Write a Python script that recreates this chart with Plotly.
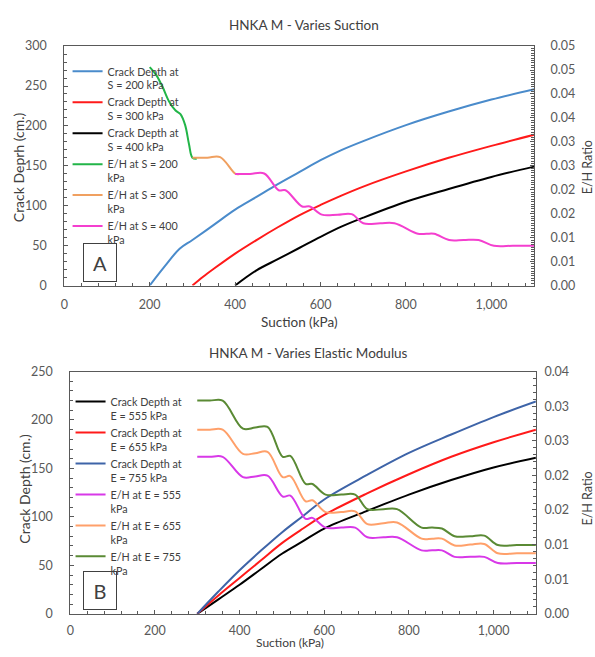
import plotly.graph_objects as go

# ---------------- DATA ----------------
# Chart A: HNKA M - Varies Suction
suction_cd_s200 = [200, 235, 270, 300, 350, 400, 450, 500, 550, 600, 650, 700, 800, 900, 1000, 1100]
crack_s200 = [0, 24, 46, 57, 76, 95, 111, 127, 142, 157, 170, 181, 201, 218, 233, 246]
suction_cd_s300 = [300, 325, 350, 400, 450, 500, 550, 600, 650, 700, 800, 900, 1000, 1100]
crack_s300 = [0, 11, 21, 40, 57, 73, 88, 101, 113, 124, 143, 160, 175, 189]
suction_cd_s400 = [400, 450, 500, 550, 600, 650, 700, 800, 900, 1000, 1100]
crack_s400 = [0, 19, 33, 47, 61, 74, 85, 105, 121, 136, 149]

suction_eh_s200 = [200, 215, 230, 245, 260, 272, 283, 292, 300, 310]
eh_s200 = [0.0456, 0.0440, 0.0415, 0.0385, 0.0366, 0.0358, 0.0335, 0.0295, 0.0267, 0.0265]
suction_eh_s300 = [300, 335, 365, 401, 410]
eh_s300 = [0.0267, 0.0267, 0.0268, 0.0233, 0.0233]
suction_eh_s400 = [400, 435, 468, 502, 518, 557, 575, 603, 640, 673, 700, 740, 773, 828, 848, 866,
                   901, 935, 970, 1006, 1050, 1100]
eh_s400 = [0.0233, 0.0233, 0.0234, 0.0199, 0.0199, 0.0165, 0.0165, 0.0148, 0.0148, 0.0149, 0.0130,
           0.0130, 0.0130, 0.0108, 0.0108, 0.0108, 0.0095, 0.0095, 0.0095, 0.0083, 0.0083, 0.0083]

# Chart B: HNKA M - Varies Elastic Modulus
suction_cd_b = [300, 350, 400, 450, 500, 550, 600, 700, 800, 900, 1000, 1100]
crack_e555 = [0, 15, 30, 46, 62, 75, 88, 106, 123, 138, 151, 161]
crack_e655 = [0, 19, 37, 55, 73, 88, 102, 124, 144, 162, 177, 190]
crack_e755 = [0, 23, 45, 65, 84, 101, 118, 143, 166, 185, 203, 219]

suction_eh_b = [300, 330, 360, 408, 437, 466, 502, 520, 556, 572, 603, 640, 673, 702, 740, 772,
                830, 855, 878, 908, 945, 978, 1010, 1055, 1100]
eh_e555 = [0.02268, 0.02268, 0.02268, 0.01974, 0.01985, 0.01995, 0.01694, 0.01708, 0.01372, 0.01386,
           0.01246, 0.01246, 0.01246, 0.01106, 0.01106, 0.01106, 0.00917, 0.00917, 0.00917,
           0.00823, 0.00823, 0.00823, 0.00734, 0.00734, 0.00734]
eh_e655 = [0.0266, 0.0266, 0.0266, 0.0231, 0.0232, 0.0234, 0.01974, 0.0199, 0.01624, 0.0164,
           0.0147, 0.0147, 0.0148, 0.01295, 0.0131, 0.0132, 0.01086, 0.01086, 0.01086,
           0.00988, 0.0100, 0.0101, 0.00875, 0.00875, 0.00875]
eh_e755 = [0.0308, 0.0308, 0.0308, 0.02674, 0.0269, 0.0270, 0.02268, 0.0228, 0.01876, 0.01876,
           0.01722, 0.01722, 0.01722, 0.01512, 0.01512, 0.01512, 0.01246, 0.01246, 0.01232,
           0.0112, 0.0112, 0.0113, 0.00994, 0.00994, 0.00994]

# Tick labels
x_tickvals = [0, 200, 400, 600, 800, 1000]
x_ticktext = ["0", "200", "400", "600", "800", "1,000"]
eh_a_tickvals = [0, 0.005, 0.01, 0.015, 0.02, 0.025, 0.03, 0.035, 0.04, 0.045, 0.05]
eh_a_ticktext = ["0.00", "0.01", "0.01", "0.02", "0.02", "0.03", "0.03", "0.04", "0.04", "0.05", "0.05"]
eh_b_tickvals = [0, 0.005, 0.01, 0.015, 0.02, 0.025, 0.03, 0.035]
eh_b_ticktext = ["0.00", "0.01", "0.01", "0.02", "0.02", "0.03", "0.03", "0.04"]

# ---------------- FIGURE ----------------
W, H = 595, 657
def px(x):
    return x / W
def py(y):
    return 1 - y / H

FONT = "Lato"
TXT = "#404040"
TICK = "#595959"
AX = "#595959"

fig = go.Figure()

def add_line(x, y, name, color, xa, ya, legend):
    fig.add_trace(go.Scatter(
        x=x, y=y, name=name, mode="lines",
        line=dict(color=color, width=2, shape="spline", smoothing=1),
        xaxis=xa, yaxis=ya, legend=legend))

# Chart A
add_line(suction_cd_s200, crack_s200, "Crack Depth at<br>S = 200 kPa", "#4A8BCB", "x", "y", "legend")
add_line(suction_cd_s300, crack_s300, "Crack Depth at<br>S = 300 kPa", "#FF1A1A", "x", "y", "legend")
add_line(suction_cd_s400, crack_s400, "Crack Depth at<br>S = 400 kPa", "#000000", "x", "y", "legend")
add_line(suction_eh_s200, eh_s200, "E/H at S = 200<br>kPa", "#22B548", "x", "y2", "legend")
add_line(suction_eh_s300, eh_s300, "E/H at S = 300<br>kPa", "#F0A060", "x", "y2", "legend")
add_line(suction_eh_s400, eh_s400, "E/H at S = 400<br>kPa", "#F43FCF", "x", "y2", "legend")

# Chart B
add_line(suction_cd_b, crack_e555, "Crack Depth at<br>E = 555 kPa", "#000000", "x2", "y3", "legend2")
add_line(suction_cd_b, crack_e655, "Crack Depth at<br>E = 655 kPa", "#FF1A1A", "x2", "y3", "legend2")
add_line(suction_cd_b, crack_e755, "Crack Depth at<br>E = 755 kPa", "#3E64A8", "x2", "y3", "legend2")
add_line(suction_eh_b, eh_e555, "E/H at E = 555<br>kPa", "#D838E8", "x2", "y4", "legend2")
add_line(suction_eh_b, eh_e655, "E/H at E = 655<br>kPa", "#FFA06A", "x2", "y4", "legend2")
add_line(suction_eh_b, eh_e755, "E/H at E = 755<br>kPa", "#5A8A34", "x2", "y4", "legend2")

def xaxis_cfg(domain, anchor, standoff):
    return dict(domain=domain, anchor=anchor, range=[0, 1100], tickvals=x_tickvals, ticktext=x_ticktext,
                ticks="inside", ticklen=4, tickcolor=AX, showline=True, linecolor=AX, linewidth=1,
                mirror=True, showgrid=False, zeroline=False,
                tickfont=dict(family=FONT, size=12.5, color=TICK), ticklabelstandoff=standoff,
                minor=dict(dtick=40, ticks="inside", ticklen=3, tickcolor=AX))

def yleft_cfg(domain, anchor, rng):
    return dict(domain=domain, anchor=anchor, range=rng, dtick=50, ticks="inside", ticklen=4,
                tickcolor=AX, showline=True, linecolor=AX, linewidth=1, showgrid=False, zeroline=False,
                tickfont=dict(family=FONT, size=12.5, color=TICK), ticklabelstandoff=14,
                minor=dict(dtick=10, ticks="inside", ticklen=3, tickcolor=AX))

def yright_cfg(overlay, anchor, rng, tv, tt, mdt, standoff):
    return dict(overlaying=overlay, side="right", anchor=anchor, range=rng, tickvals=tv, ticktext=tt,
                ticks="inside", ticklen=4, tickcolor=AX, showline=True, linecolor=AX, linewidth=1,
                showgrid=False, zeroline=False,
                tickfont=dict(family=FONT, size=12.5, color=TICK), ticklabelstandoff=standoff,
                minor=dict(dtick=mdt, ticks="inside", ticklen=3, tickcolor=AX))

legend_common = dict(xanchor="left", yanchor="top", bgcolor="rgba(0,0,0,0)",
                     font=dict(family=FONT, size=10.75, color=TXT), valign="top",
                     tracegroupgap=0, itemwidth=30)

fig.update_layout(
    width=W, height=H,
    margin=dict(l=0, r=0, t=0, b=0),
    paper_bgcolor="white", plot_bgcolor="white",
    font=dict(family=FONT, color=TXT),
    xaxis=xaxis_cfg([px(60.7), px(533.7)], "y", 7),
    yaxis=yleft_cfg([py(284), py(39)], "x", [0, 300]),
    yaxis2=yright_cfg("y", "x", [0, 0.05], eh_a_tickvals, eh_a_ticktext, 0.0005, 13),
    xaxis2=xaxis_cfg([px(66.7), px(535.5)], "y3", 5),
    yaxis3=yleft_cfg([py(620), py(372)], "x2", [0, 250]),
    yaxis4=yright_cfg("y3", "x2", [0, 0.035], eh_b_tickvals, eh_b_ticktext, 0.001, 5),
    legend=dict(x=px(64), y=py(51), **legend_common),
    legend2=dict(x=px(67), y=py(389), **legend_common),
    showlegend=True,
)

def ann(text, x, y, size, angle=0, **kw):
    fig.add_annotation(text=text, x=px(x), y=py(y), xref="paper", yref="paper",
                       xanchor="center", yanchor="middle", showarrow=False, textangle=angle,
                       font=dict(family=FONT, size=size, color=TXT), **kw)

ann("HNKA M - Varies Suction", 302, 17, 13.5)
ann("HNKA M - Varies Elastic Modulus", 307, 353, 13.5)
ann("Suction (kPa)", 297, 321, 13.5)
ann("Suction (kPa)", 288, 649.5, 12)
ann("Crack Deprh (cm.)", 14, 163, 14, -90)
ann("Crack Depth (cm.)", 21, 492, 14, -90)
ann("E/H Ratio", 587, 163, 12.5, -90)
ann("E/H Ratio", 587, 502, 12.5, -90)
ann("A", 97, 260.5, 20, width=32, height=37, bordercolor="#404040", borderwidth=1, borderpad=0)
ann("B", 97, 596.5, 20, width=32, height=37, bordercolor="#404040", borderwidth=1, borderpad=0)

fig.write_html("out.html", config={"displayModeBar": False},
               post_script="document.body.style.margin='0';document.body.style.overflow='hidden';")
